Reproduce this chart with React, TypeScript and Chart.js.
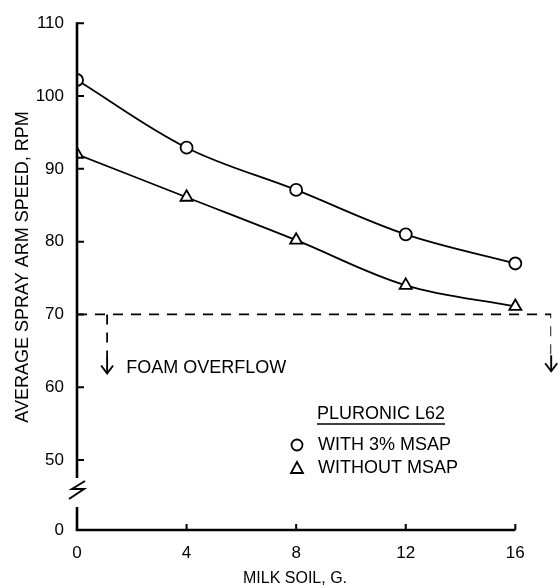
import React, { useEffect, useRef } from "react";
import { Chart, registerables } from "chart.js";

Chart.register(...registerables);

const milkSoil = [0, 4, 8, 12, 16];
const withMsap = [102.2, 92.9, 87.1, 81.0, 77.0];
const withoutMsap = [92.0, 86.1, 80.2, 74.0, 71.1];
const xTicks = [0, 4, 8, 12, 16];
const yTicks = [40.4, 50, 60, 70, 80, 90, 100, 110];
const overflowLevel = 70;
const overflowStartX = 1.1;
const overflowEndX = 17.31;
const overflowArrowTipLeft = 61.9;
const overflowArrowTipRight = 62.2;

const FONT = "'Liberation Sans', Arial, Helvetica, sans-serif";

const decorPlugin = {
  id: "decor",
  afterDatasetsDraw(chart: any) {
    const { ctx, scales } = chart;
    const xs = scales.x;
    const ys = scales.y;
    const ax = xs.getPixelForValue(0);
    const bottom = ys.getPixelForValue(yTicks[0]);
    const top = ys.getPixelForValue(110);
    ctx.save();
    ctx.strokeStyle = "#000";
    ctx.fillStyle = "#000";
    ctx.lineCap = "butt";
    // y axis with break
    ctx.lineWidth = 2.6;
    const breakTop = bottom - 52;
    const breakBottom = bottom - 23;
    ctx.beginPath();
    ctx.moveTo(ax, top - 1);
    ctx.lineTo(ax, breakTop);
    ctx.moveTo(ax, breakBottom);
    ctx.lineTo(ax, bottom);
    ctx.stroke();
    // break mark (lightning-bolt style)
    ctx.lineWidth = 2;
    ctx.beginPath();
    ctx.moveTo(ax + 8, breakTop + 3);
    ctx.lineTo(ax - 5, breakTop + 11);
    ctx.lineTo(ax + 7, breakTop + 11);
    ctx.lineTo(ax - 8, breakTop + 21);
    ctx.stroke();
    // x axis
    ctx.lineWidth = 2.6;
    ctx.beginPath();
    ctx.moveTo(ax - 1.3, bottom);
    ctx.lineTo(xs.getPixelForValue(16), bottom);
    ctx.stroke();
    // ticks
    ctx.lineWidth = 2;
    ctx.beginPath();
    for (const v of yTicks.slice(1)) {
      const py = ys.getPixelForValue(v);
      ctx.moveTo(ax, py);
      ctx.lineTo(ax + 7, py);
    }
    for (const v of xTicks.slice(1)) {
      const px = xs.getPixelForValue(v);
      ctx.moveTo(px, bottom);
      ctx.lineTo(px, bottom - 6);
    }
    ctx.stroke();
    // arrow heads
    ctx.lineWidth = 1.9;
    const arrow = (px: number, py: number) => {
      ctx.beginPath();
      ctx.moveTo(px - 6, py - 8);
      ctx.lineTo(px, py);
      ctx.lineTo(px + 6, py - 8);
      ctx.stroke();
      ctx.beginPath();
      ctx.moveTo(px, py);
      ctx.lineTo(px, py - 16);
      ctx.stroke();
    };
    arrow(xs.getPixelForValue(overflowStartX), ys.getPixelForValue(overflowArrowTipLeft));
    arrow(xs.getPixelForValue(overflowEndX), ys.getPixelForValue(overflowArrowTipRight));
    // FOAM OVERFLOW
    ctx.font = `18px ${FONT}`;
    ctx.textAlign = "left";
    ctx.textBaseline = "middle";
    ctx.fillText("FOAM OVERFLOW", xs.getPixelForValue(overflowStartX) + 19, ys.getPixelForValue(overflowArrowTipLeft) - 5);
    // legend
    const lx = 317;
    ctx.fillText("PLURONIC L62", lx, 414);
    const w = ctx.measureText("PLURONIC L62").width;
    ctx.lineWidth = 1.3;
    ctx.beginPath();
    ctx.moveTo(lx, 424);
    ctx.lineTo(lx + w, 424);
    ctx.stroke();
    ctx.fillText("WITH 3% MSAP", lx + 1, 445);
    ctx.fillText("WITHOUT MSAP", lx + 1, 468);
    ctx.lineWidth = 1.8;
    ctx.beginPath();
    ctx.arc(297, 445, 5.5, 0, Math.PI * 2);
    ctx.stroke();
    ctx.beginPath();
    ctx.moveTo(297, 462);
    ctx.lineTo(303, 473);
    ctx.lineTo(291, 473);
    ctx.closePath();
    ctx.stroke();
    // axis titles
    ctx.font = `18px ${FONT}`;
    ctx.textAlign = "center";
    ctx.save();
    ctx.translate(23, 267);
    ctx.rotate(-Math.PI / 2);
    ctx.fillText("AVERAGE SPRAY ARM SPEED, RPM", 0, 0);
    ctx.restore();
    ctx.font = `16px ${FONT}`;
    ctx.fillText("MILK SOIL, G.", 295, 579);
    ctx.restore();
  },
};

export default function App() {
  const ref = useRef<HTMLCanvasElement | null>(null);
  useEffect(() => {
    if (!ref.current) return;
    const chart = new Chart(ref.current, {
      type: "line",
      data: {
        datasets: [
          {
            label: "WITH 3% MSAP",
            data: milkSoil.map((x, i) => ({ x, y: withMsap[i] })),
            borderColor: "#000",
            borderWidth: 1.8,
            backgroundColor: "#fff",
            pointStyle: "circle",
            pointRadius: 6,
            pointBorderWidth: 1.8,
            pointBackgroundColor: "#fff",
            pointBorderColor: "#000",
            tension: 0.35,
          },
          {
            label: "WITHOUT MSAP",
            data: milkSoil.map((x, i) => ({ x, y: withoutMsap[i] })),
            borderColor: "#000",
            borderWidth: 1.8,
            pointStyle: "triangle",
            pointRadius: 7,
            pointBorderWidth: 1.8,
            pointBackgroundColor: "#fff",
            pointBorderColor: "#000",
            tension: 0.35,
          },
          {
            label: "overflow",
            data: [
              { x: 0, y: overflowLevel },
              { x: overflowEndX, y: overflowLevel },
              { x: overflowEndX, y: overflowArrowTipRight + 2 },
            ],
            borderColor: "#000",
            borderWidth: 1.8,
            borderDash: [10, 8],
            pointRadius: 0,
            tension: 0,
          },
          {
            label: "overflow2",
            data: [
              { x: overflowStartX, y: overflowLevel },
              { x: overflowStartX, y: overflowArrowTipLeft + 2 },
            ],
            borderColor: "#000",
            borderWidth: 1.8,
            borderDash: [10, 8],
            pointRadius: 0,
            tension: 0,
          },
        ],
      },
      options: {
        animation: false,
        responsive: false,
        layout: { padding: { top: 22, right: 6, left: 0, bottom: 0 } },
        plugins: { legend: { display: false }, tooltip: { enabled: false } },
        scales: {
          x: {
            type: "linear",
            min: 0,
            max: overflowEndX,
            grid: { display: false, drawTicks: false },
            border: { display: false },
            afterBuildTicks: (s: any) => {
              s.ticks = xTicks.map((v) => ({ value: v }));
            },
            afterFit: (s: any) => {
              s.height = 58;
            },
            ticks: {
              color: "#000",
              font: { family: FONT, size: 17 },
              padding: 13,
              maxRotation: 0,
              callback: (v: any) => String(v),
            },
          },
          y: {
            type: "linear",
            min: yTicks[0],
            max: 110,
            grid: { display: false, drawTicks: false },
            border: { display: false },
            afterBuildTicks: (s: any) => {
              s.ticks = yTicks.map((v) => ({ value: v }));
            },
            afterFit: (s: any) => {
              s.width = 77;
            },
            ticks: {
              color: "#000",
              font: { family: FONT, size: 17 },
              padding: 13,
              callback: (v: any) => (v < 45 ? "0" : String(v)),
            },
          },
        },
      },
      plugins: [decorPlugin],
    });
    return () => chart.destroy();
  }, []);
  return (
    <div style={{ position: "absolute", left: 0, top: 0, width: 560, height: 588, background: "#fff" }}>
      <canvas ref={ref} width={560} height={588} style={{ display: "block" }} />
    </div>
  );
}
